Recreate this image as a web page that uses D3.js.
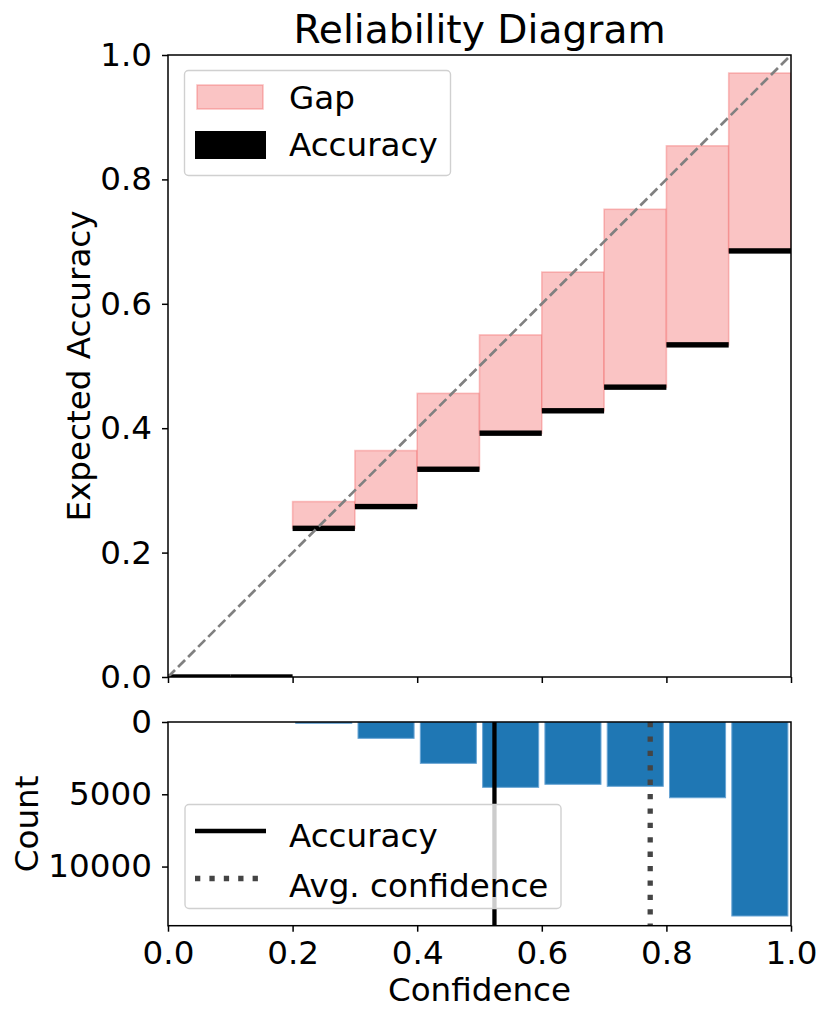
<!DOCTYPE html>
<html>
<head>
<meta charset="utf-8">
<script src="https://cdn.jsdelivr.net/npm/d3@7.9.0/dist/d3.min.js"></script>
<style>
  html, body { margin: 0; padding: 0; background: #fff; }
  svg { display: block; font-family: "DejaVu Sans", sans-serif; }
</style>
</head>
<body>
<svg id="chart" width="830" height="1022"></svg>
<script>
// bins of width 0.1 on the confidence axis
const binStarts = [0.0, 0.1, 0.2, 0.3, 0.4, 0.5, 0.6, 0.7, 0.8, 0.9];
const binAccuracy = [0, 0, 0.239, 0.274, 0.334, 0.392, 0.428, 0.466, 0.534, 0.685];
const binConfidence = [0, 0, 0.282, 0.364, 0.456, 0.550, 0.651, 0.752, 0.854, 0.971];
const binCounts = [0, 0, 90, 1130, 2860, 4520, 4310, 4450, 5240, 13420];
const overallAccuracy = 0.524;
const avgConfidence = 0.774;
const xTicks = [0, 0.2, 0.4, 0.6, 0.8, 1.0];
const yTicksTop = [0, 0.2, 0.4, 0.6, 0.8, 1.0];
const yTicksBottom = [0, 5000, 10000];

const svg = d3.select('#chart');
const FONT = 32.6;

const left = 168, right = 791;
const top1 = 55, bottom1 = 677;
const top2 = 722, bottom2 = 925.7;

const x = d3.scaleLinear().domain([0, 1]).range([left, right]);
const yTop = d3.scaleLinear().domain([0, 1]).range([bottom1, top1]);
const yCount = d3.scaleLinear()
    .domain([0, d3.max(binCounts) * 1.05])
    .range([top2, bottom2]);

const bins = binStarts.map((b, i) => ({
    start: b,
    acc: binAccuracy[i],
    conf: binConfidence[i],
    count: binCounts[i]
}));

// clip paths
const defs = svg.append('defs');
defs.append('clipPath').attr('id', 'clipTop')
    .append('rect').attr('x', left).attr('y', top1)
    .attr('width', right - left).attr('height', bottom1 - top1);
defs.append('clipPath').attr('id', 'clipBottom')
    .append('rect').attr('x', left).attr('y', top2)
    .attr('width', right - left).attr('height', bottom2 - top2);

// ---- reliability panel ----
const plot = svg.append('g').attr('clip-path', 'url(#clipTop)');

// gap bars
plot.append('g').selectAll('rect')
    .data(bins.filter(d => d.conf > d.acc))
    .join('rect')
    .attr('x', d => x(d.start))
    .attr('width', d => x(d.start + 0.1) - x(d.start))
    .attr('y', d => yTop(d.conf))
    .attr('height', d => yTop(d.acc) - yTop(d.conf))
    .attr('fill', 'rgb(250,196,196)')
    .attr('stroke', 'rgba(240,90,90,0.35)')
    .attr('stroke-width', 1.6);

// accuracy bars (zero-height bars with thick black edge)
plot.append('g').selectAll('rect')
    .data(bins)
    .join('rect')
    .attr('x', d => x(d.start))
    .attr('width', d => x(d.start + 0.1) - x(d.start))
    .attr('y', d => yTop(d.acc) - 2.7)
    .attr('height', 5.4)
    .attr('fill', '#000');

// perfect calibration diagonal
plot.append('line')
    .attr('x1', x(0)).attr('y1', yTop(0))
    .attr('x2', x(1)).attr('y2', yTop(1))
    .attr('stroke', '#808080')
    .attr('stroke-width', 2.7)
    .attr('stroke-dasharray', '9.9,4.3');

// axes
function styleAxis(g) {
    g.select('.domain').remove();
    g.selectAll('.tick line').attr('stroke', '#000').attr('stroke-width', 1.5);
    g.selectAll('.tick text')
        .attr('fill', '#000')
        .style('font-size', FONT + 'px')
        .style('font-family', '"DejaVu Sans", sans-serif');
}

svg.append('g')
    .attr('transform', `translate(${left},0)`)
    .call(d3.axisLeft(yTop).tickValues(yTicksTop).tickFormat(d3.format('.1f'))
        .tickSize(6).tickPadding(10))
    .call(styleAxis);

svg.append('g')
    .attr('transform', `translate(0,${bottom1})`)
    .call(d3.axisBottom(x).tickValues(xTicks).tickFormat('').tickSize(6))
    .call(styleAxis);

svg.append('rect')
    .attr('x', left).attr('y', top1)
    .attr('width', right - left).attr('height', bottom1 - top1)
    .attr('fill', 'none').attr('stroke', '#000').attr('stroke-width', 1.5);

svg.append('text')
    .attr('x', (left + right) / 2).attr('y', 43)
    .attr('text-anchor', 'middle')
    .style('font-size', '39.2px')
    .text('Reliability Diagram');

svg.append('text')
    .attr('transform', `translate(89.5,${(top1 + bottom1) / 2}) rotate(-90)`)
    .attr('text-anchor', 'middle')
    .style('font-size', FONT + 'px')
    .text('Expected Accuracy');

// legend (top)
const leg1 = svg.append('g');
leg1.append('rect')
    .attr('x', 184.5).attr('y', 70.5).attr('width', 266).attr('height', 105)
    .attr('rx', 4).attr('fill', '#fff').attr('fill-opacity', 0.8)
    .attr('stroke', '#d0d0d0').attr('stroke-width', 1.4);
leg1.append('rect')
    .attr('x', 197).attr('y', 85).attr('width', 66).attr('height', 24)
    .attr('fill', 'rgb(250,196,196)')
    .attr('stroke', 'rgba(240,90,90,0.35)').attr('stroke-width', 1.6);
leg1.append('rect')
    .attr('x', 195).attr('y', 131).attr('width', 71).attr('height', 28)
    .attr('fill', '#000');
leg1.append('text').attr('x', 289).attr('y', 108.5)
    .style('font-size', FONT + 'px').text('Gap');
leg1.append('text').attr('x', 289).attr('y', 156)
    .style('font-size', FONT + 'px').text('Accuracy');

// ---- count histogram panel ----
const hist = svg.append('g').attr('clip-path', 'url(#clipBottom)');

hist.append('g').selectAll('rect')
    .data(bins.filter(d => d.count > 0))
    .join('rect')
    .attr('x', d => x(d.start + 0.005))
    .attr('width', d => x(d.start + 0.095) - x(d.start + 0.005))
    .attr('y', yCount(0))
    .attr('height', d => yCount(d.count) - yCount(0))
    .attr('fill', '#1f77b4')
    .attr('stroke', '#6aa5d4')
    .attr('stroke-width', 1);

hist.append('line')
    .attr('x1', x(overallAccuracy)).attr('x2', x(overallAccuracy))
    .attr('y1', top2).attr('y2', bottom2)
    .attr('stroke', '#000').attr('stroke-width', 4.3);

hist.append('line')
    .attr('x1', x(avgConfidence)).attr('x2', x(avgConfidence))
    .attr('y1', top2).attr('y2', bottom2)
    .attr('stroke', '#444').attr('stroke-width', 5.3)
    .attr('stroke-dasharray', '5.3,9.1');

svg.append('g')
    .attr('transform', `translate(${left},0)`)
    .call(d3.axisLeft(yCount).tickValues(yTicksBottom).tickFormat(d3.format('d'))
        .tickSize(6).tickPadding(10))
    .call(styleAxis);

svg.append('g')
    .attr('transform', `translate(0,${bottom2})`)
    .call(d3.axisBottom(x).tickValues(xTicks).tickFormat(d3.format('.1f'))
        .tickSize(6).tickPadding(9))
    .call(styleAxis);

svg.append('rect')
    .attr('x', left).attr('y', top2)
    .attr('width', right - left).attr('height', bottom2 - top2)
    .attr('fill', 'none').attr('stroke', '#000').attr('stroke-width', 1.5);

svg.append('text')
    .attr('x', (left + right) / 2).attr('y', 1001)
    .attr('text-anchor', 'middle')
    .style('font-size', FONT + 'px')
    .text('Confidence');

svg.append('text')
    .attr('transform', `translate(38,${(top2 + bottom2) / 2}) rotate(-90)`)
    .attr('text-anchor', 'middle')
    .style('font-size', FONT + 'px')
    .text('Count');

// legend (bottom)
const leg2 = svg.append('g');
leg2.append('rect')
    .attr('x', 185).attr('y', 804.5).attr('width', 376).attr('height', 104)
    .attr('rx', 4).attr('fill', '#fff').attr('fill-opacity', 0.8)
    .attr('stroke', '#d0d0d0').attr('stroke-width', 1.4);
leg2.append('line')
    .attr('x1', 195).attr('x2', 266).attr('y1', 831).attr('y2', 831)
    .attr('stroke', '#000').attr('stroke-width', 4.3);
leg2.append('line')
    .attr('x1', 195).attr('x2', 266).attr('y1', 878.5).attr('y2', 878.5)
    .attr('stroke', '#444').attr('stroke-width', 5.3)
    .attr('stroke-dasharray', '5.3,9.1');
leg2.append('text').attr('x', 289).attr('y', 846.5)
    .style('font-size', FONT + 'px').text('Accuracy');
leg2.append('text').attr('x', 289).attr('y', 896.5)
    .style('font-size', FONT + 'px').text('Avg. confidence');
</script>
</body>
</html>
